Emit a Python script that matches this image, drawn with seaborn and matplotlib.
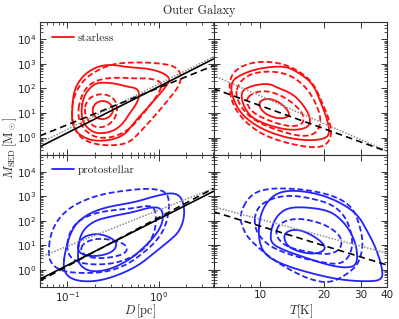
import numpy as np
import matplotlib
matplotlib.use("Agg")
import matplotlib.pyplot as plt
import matplotlib.ticker as mticker
from matplotlib.lines import Line2D
import seaborn as sns

# contour outlines, stored as log10 values
# starless, mass vs size  (inner, middle, outer levels)
sl_D_solid_logD = [
    [-0.73, -0.70, -0.62, -0.54, -0.49, -0.53, -0.61, -0.70],
    [-0.85, -0.82, -0.73, -0.65, -0.48, -0.35, -0.23, -0.21, -0.24, -0.32, -0.40, -0.51, -0.65, -0.75, -0.83],
    [-0.95, -0.93, -0.84, -0.70, -0.54, -0.32, -0.13, 0.04, 0.13, 0.09, -0.02, -0.15, -0.28, -0.37, -0.54, -0.75, -0.90, -0.95],
]
sl_D_solid_logM = [
    [1.10, 1.39, 1.51, 1.43, 1.14, 0.85, 0.73, 0.81],
    [1.10, 1.71, 2.12, 2.25, 2.21, 2.08, 2.00, 1.71, 1.39, 0.97, 0.52, 0.24, 0.15, 0.28, 0.61],
    [1.10, 1.92, 2.49, 2.86, 2.99, 2.86, 2.82, 2.66, 2.41, 2.12, 1.63, 1.10, 0.56, 0.11, -0.13, -0.13, 0.19, 0.61],
]
sl_D_dash_logD = [
    [-0.82, -0.79, -0.69, -0.56, -0.47, -0.45, -0.49, -0.60, -0.73],
    [-0.89, -0.86, -0.78, -0.65, -0.48, -0.26, -0.08, 0.04, 0.01, -0.10, -0.21, -0.34, -0.51, -0.70, -0.83],
    [-0.96, -0.93, -0.83, -0.68, -0.48, -0.21, 0.01, 0.18, 0.25, 0.23, 0.10, -0.04, -0.19, -0.32, -0.51, -0.73, -0.89],
]
sl_D_dash_logM = [
    [1.02, 1.51, 1.76, 1.76, 1.51, 1.10, 0.69, 0.40, 0.44],
    [0.89, 1.59, 2.12, 2.37, 2.45, 2.41, 2.41, 2.25, 1.84, 1.30, 0.77, 0.28, -0.01, -0.01, 0.36],
    [0.89, 1.71, 2.33, 2.74, 3.03, 3.07, 3.03, 2.91, 2.58, 2.12, 1.51, 0.89, 0.28, -0.22, -0.34, -0.26, 0.07],
]

# starless, mass vs temperature
sl_T_solid_logT = [
    [0.99, 1.01, 1.05, 1.10, 1.14, 1.13, 1.08, 1.02],
    [0.90, 0.96, 1.04, 1.08, 1.15, 1.20, 1.24, 1.23, 1.15, 1.04, 0.94],
    [0.85, 0.93, 1.02, 1.12, 1.18, 1.25, 1.29, 1.32, 1.33, 1.31, 1.23, 1.12, 0.99, 0.89],
]
sl_T_solid_logM = [
    [1.34, 1.55, 1.59, 1.39, 1.02, 0.81, 0.77, 0.97],
    [1.84, 2.12, 2.21, 2.04, 1.80, 1.39, 0.81, 0.40, 0.28, 0.48, 0.89],
    [2.25, 2.66, 2.86, 2.91, 2.66, 2.21, 1.39, 0.69, 0.19, -0.05, -0.13, -0.01, 0.40, 1.10],
]
sl_T_dash_logT = [
    [0.93, 0.96, 1.02, 1.09, 1.16, 1.21, 1.20, 1.14, 1.05, 0.96],
    [0.88, 0.90, 0.95, 1.02, 1.10, 1.17, 1.23, 1.27, 1.29, 1.27, 1.21, 1.12, 1.01, 0.93],
    [0.85, 0.87, 0.93, 1.01, 1.10, 1.18, 1.25, 1.29, 1.33, 1.34, 1.31, 1.25, 1.14, 1.02, 0.93, 0.87],
]
sl_T_dash_logM = [
    [1.51, 1.80, 1.92, 1.76, 1.39, 0.89, 0.52, 0.44, 0.65, 1.02],
    [1.71, 2.25, 2.58, 2.70, 2.66, 2.41, 1.92, 1.30, 0.69, 0.19, 0.03, 0.19, 0.52, 0.97],
    [2.12, 2.66, 2.99, 3.11, 3.03, 2.74, 2.25, 1.51, 0.69, 0.07, -0.34, -0.42, -0.26, 0.07, 0.61, 1.30],
]

# protostellar, mass vs size
ps_D_solid_logD = [
    [-0.90, -0.83, -0.68, -0.54, -0.45, -0.50, -0.68, -0.85],
    [-0.89, -0.86, -0.72, -0.50, -0.28, -0.08, 0.04, 0.05, -0.03, -0.17, -0.32, -0.54, -0.75, -0.87],
    [-1.05, -1.02, -0.94, -0.79, -0.57, -0.28, -0.03, 0.16, 0.26, 0.29, 0.23, 0.10, -0.04, -0.21, -0.43, -0.65, -0.85, -0.99],
]
ps_D_solid_logM = [
    [0.95, 1.35, 1.49, 1.35, 1.09, 0.72, 0.54, 0.61],
    [0.61, 1.49, 1.99, 2.20, 2.35, 2.57, 2.51, 1.96, 1.42, 0.88, 0.41, 0.00, -0.09, 0.20],
    [0.07, 0.88, 1.76, 2.26, 2.57, 2.74, 3.02, 3.16, 2.94, 2.24, 1.56, 1.13, 0.72, 0.20, -0.20, -0.45, -0.48, -0.31],
]
ps_D_dash_logD = [
    [-0.86, -0.83, -0.68, -0.50, -0.35, -0.35, -0.54, -0.75],
    [-1.01, -0.99, -0.90, -0.72, -0.50, -0.28, -0.10, -0.03, -0.03, -0.10, -0.24, -0.46, -0.72, -0.92],
    [-1.21, -1.19, -1.10, -0.94, -0.65, -0.28, -0.06, 0.10, 0.12, 0.07, -0.03, -0.17, -0.35, -0.57, -0.83, -1.05, -1.17],
]
ps_D_dash_logM = [
    [0.74, 1.09, 1.29, 1.22, 1.02, 0.68, 0.48, 0.48],
    [0.74, 1.42, 1.96, 2.30, 2.44, 2.51, 2.64, 2.44, 1.70, 1.09, 0.61, 0.27, 0.20, 0.34],
    [0.61, 1.42, 2.10, 2.64, 3.08, 3.28, 3.32, 3.16, 2.51, 1.70, 1.15, 0.68, 0.20, -0.09, -0.14, -0.07, 0.20],
]

# protostellar, mass vs temperature
ps_T_solid_logT = [
    [1.11, 1.13, 1.18, 1.24, 1.30, 1.31, 1.26, 1.19, 1.13],
    [1.05, 1.07, 1.12, 1.20, 1.32, 1.38, 1.43, 1.46, 1.46, 1.41, 1.32, 1.20, 1.11, 1.05],
    [0.99, 1.00, 1.05, 1.12, 1.24, 1.36, 1.46, 1.51, 1.55, 1.58, 1.58, 1.51, 1.38, 1.24, 1.11, 1.02],
]
ps_T_solid_logM = [
    [1.35, 1.59, 1.65, 1.45, 1.09, 0.81, 0.64, 0.72, 0.95],
    [1.56, 2.10, 2.51, 2.57, 2.44, 2.10, 1.56, 0.88, 0.20, 0.07, 0.20, 0.54, 0.81, 1.09],
    [1.29, 2.30, 2.98, 3.25, 3.18, 2.85, 2.30, 1.56, 0.88, 0.07, -0.41, -0.48, -0.41, -0.14, 0.20, 0.61],
]
ps_T_dash_logT = [
    [1.07, 1.09, 1.16, 1.24, 1.33, 1.39, 1.38, 1.32, 1.22, 1.12],
    [0.97, 0.98, 1.05, 1.14, 1.25, 1.35, 1.41, 1.44, 1.43, 1.38, 1.27, 1.14, 1.03],
    [0.90, 0.95, 1.03, 1.16, 1.28, 1.38, 1.44, 1.47, 1.49, 1.47, 1.41, 1.33, 1.24, 1.14, 1.05, 0.95, 0.92],
]
ps_T_dash_logM = [
    [1.42, 1.90, 2.10, 2.03, 1.76, 1.29, 0.81, 0.61, 0.74, 0.95],
    [1.70, 2.51, 2.91, 3.05, 2.91, 2.64, 2.10, 1.29, 0.61, 0.20, 0.34, 0.61, 1.02],
    [2.24, 3.05, 3.32, 3.32, 3.18, 2.91, 2.51, 1.90, 1.09, 0.27, -0.20, -0.54, -0.41, 0.00, 0.48, 1.22, 1.63],
]

# fitted relations (end points at the axis limits)
D_fit = [0.05, 4.0]
sl_D_solid_fit = [0.42, 1600]
sl_D_dash_fit = [1.17, 850]
sl_D_dot_fit = [0.60, 1950]
ps_D_solid_fit = [0.42, 1600]
ps_D_dash_fit = [0.36, 2100]
ps_D_dot_fit = [3.3, 2100]

T_fit = [6.0, 40.0]
sl_T_dash_fit = [98, 0.27]
sl_T_dot_fit = [340, 0.28]
ps_T_dash_fit = [234, 1.58]
ps_T_dot_fit = [372, 4.8]

red = "#ff0d0d"
blue = "#2323ff"

sns.set_style("ticks")
plt.rcParams["font.family"] = ["DejaVu Sans"]
plt.rcParams["axes.linewidth"] = 0.8


def smooth_loop(lx, ly, n=3):
    p = np.column_stack([lx, ly]).astype(float)
    for _ in range(n):
        q = np.roll(p, -1, axis=0)
        a = 0.75 * p + 0.25 * q
        b = 0.25 * p + 0.75 * q
        p = np.empty((2 * len(a), 2))
        p[0::2] = a
        p[1::2] = b
    p = np.vstack([p, p[:1]])
    return 10 ** p[:, 0], 10 ** p[:, 1]


def draw_contours(ax, xs_list, ys_list, color, ls):
    for lx, ly in zip(xs_list, ys_list):
        x, y = smooth_loop(lx, ly)
        sns.lineplot(x=x, y=y, sort=False, estimator=None, ax=ax,
                     color=color, lw=1.3, linestyle=ls)


fig, axes = plt.subplots(2, 2, figsize=(3.99, 3.19), dpi=100,
                         gridspec_kw=dict(hspace=0, wspace=0))
fig.subplots_adjust(left=40 / 399, right=387 / 399, top=1 - 22.3 / 319, bottom=1 - 287 / 319)

dash = (0, (3.2, 1.6))
kdash = (0, (4, 2.5))

panels = [
    (axes[0, 0], sl_D_solid_logD, sl_D_solid_logM, sl_D_dash_logD, sl_D_dash_logM, red),
    (axes[0, 1], sl_T_solid_logT, sl_T_solid_logM, sl_T_dash_logT, sl_T_dash_logM, red),
    (axes[1, 0], ps_D_solid_logD, ps_D_solid_logM, ps_D_dash_logD, ps_D_dash_logM, blue),
    (axes[1, 1], ps_T_solid_logT, ps_T_solid_logM, ps_T_dash_logT, ps_T_dash_logM, blue),
]
for ax, sx, sy, dx, dy, col in panels:
    ax.set_xscale("log")
    ax.set_yscale("log")
    draw_contours(ax, sx, sy, col, "-")
    draw_contours(ax, dx, dy, col, dash)

# fit lines
for ax, solid, dashed, dotted in [(axes[0, 0], sl_D_solid_fit, sl_D_dash_fit, sl_D_dot_fit),
                                  (axes[1, 0], ps_D_solid_fit, ps_D_dash_fit, ps_D_dot_fit)]:
    sns.lineplot(x=D_fit, y=dotted, ax=ax, color="#8c8c8c", lw=1.1, linestyle=(0, (1, 1)))
    sns.lineplot(x=D_fit, y=solid, ax=ax, color="black", lw=1.2)
    sns.lineplot(x=D_fit, y=dashed, ax=ax, color="black", lw=1.2, linestyle=kdash)

for ax, dashed, dotted in [(axes[0, 1], sl_T_dash_fit, sl_T_dot_fit),
                           (axes[1, 1], ps_T_dash_fit, ps_T_dot_fit)]:
    sns.lineplot(x=T_fit, y=dotted, ax=ax, color="#8c8c8c", lw=1.1, linestyle=(0, (1, 1)))
    sns.lineplot(x=T_fit, y=dashed, ax=ax, color="black", lw=1.2, linestyle=kdash)

for ax in axes.flat:
    ax.set_ylim(0.2, 5e4)
    ax.set_xlabel("")
    ax.set_ylabel("")
    ax.tick_params(which="both", direction="in", top=True, right=True,
                   labelsize=7.5, color="#333333", pad=2.5)
    ax.tick_params(which="major", length=4, width=0.7)
    ax.tick_params(which="minor", length=2, width=0.6)
    ax.yaxis.set_major_locator(mticker.LogLocator(base=10, numticks=12))
    ax.yaxis.set_minor_locator(mticker.LogLocator(base=10, subs=np.arange(2, 10), numticks=12))
    for s in ax.spines.values():
        s.set_color("#333333")

for ax in axes[:, 0]:
    ax.set_xlim(0.05, 4.0)
    ax.xaxis.set_major_locator(mticker.LogLocator(base=10, numticks=12))
    ax.xaxis.set_minor_locator(mticker.LogLocator(base=10, subs=np.arange(2, 10), numticks=12))

for ax in axes[:, 1]:
    ax.set_xlim(6.0, 40.0)
    ax.xaxis.set_major_locator(mticker.FixedLocator([10, 20, 30, 40]))
    ax.xaxis.set_major_formatter(mticker.FixedFormatter(["10", "20", "30", "40"]))
    ax.xaxis.set_minor_locator(mticker.FixedLocator([6, 7, 8, 9]))
    ax.xaxis.set_minor_formatter(mticker.NullFormatter())
    ax.tick_params(labelleft=False)

for ax in axes[0, :]:
    ax.tick_params(labelbottom=False)

# legends
cm_font = {"family": "cmr10", "size": 8.2}
for ax, lab, col in [(axes[0, 0], "starless", red), (axes[1, 0], "protostellar", blue)]:
    h = Line2D([], [], color=col, lw=1.3)
    ax.legend([h], [lab], loc="center left", bbox_to_anchor=(0.07, 0.885),
              frameon=False, prop=cm_font, handlelength=1.9, handletextpad=0.35,
              borderpad=0, borderaxespad=0)

fig.text(199.5 / 399, 1 - 11 / 319, "Outer Galaxy", ha="center", va="center",
         fontfamily="cmr10", fontsize=8.7)
fig.text(140 / 399, 1 - 311 / 319, r"$D\,[{\rm pc}]$", ha="center", va="center",
         fontsize=9, math_fontfamily="cm")
fig.text(301 / 399, 1 - 311 / 319, r"$T[{\rm K}]$", ha="center", va="center",
         fontsize=9, math_fontfamily="cm")
fig.text(10 / 399, 1 - 148 / 319, r"$M_{\rm SED}\,[{\rm M}_\odot]$", ha="center", va="center",
         rotation=90, fontsize=9, math_fontfamily="cm")

fig.savefig("out.png", dpi=100)
